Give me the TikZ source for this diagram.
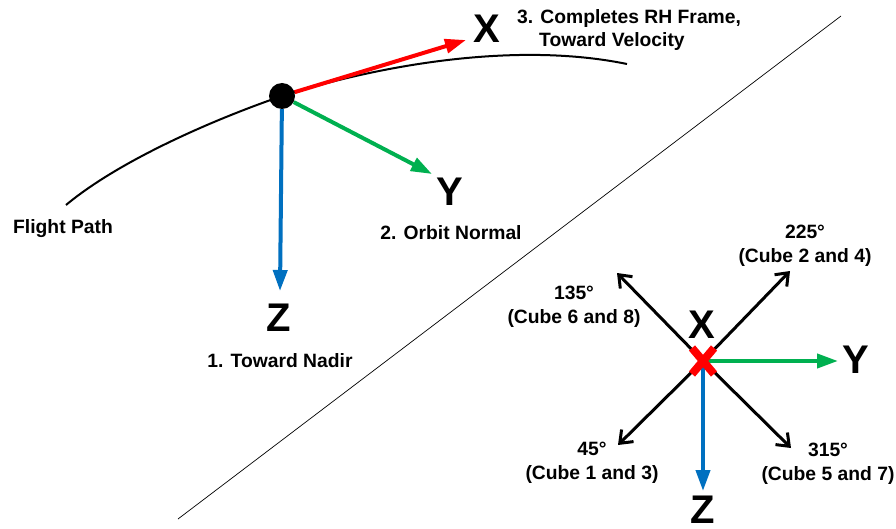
\documentclass[tikz,border=0pt]{standalone}
\usepackage{fontspec}
\setmainfont{Liberation Sans}
\usetikzlibrary{arrows.meta}
\definecolor{axred}{RGB}{255,0,0}
\definecolor{axgreen}{RGB}{0,176,80}
\definecolor{axblue}{RGB}{0,112,192}
\tikzset{x=1pt,y=-1pt,
 lab/.style={font=\bfseries\fontsize{19.3}{23.5}\selectfont,align=center,inner sep=0pt},
 big/.style={font=\bfseries\fontsize{40}{42}\selectfont,inner sep=0pt},
 axis/.style={line width=4pt,-{Triangle[length=21pt,width=14pt]}},
 cube/.style={line width=3pt,black,-{Straight Barb[length=11pt,width=17pt,line width=3pt]}},
 mark x/.style={line width=8pt,axred}}
\begin{document}
\begin{tikzpicture}
\useasboundingbox (0,0) rectangle (896,529);
\fill[white] (0,0) rectangle (896,529);
\coordinate (ps) at (66,205);
\coordinate (pe) at (627,64);
\coordinate (ds) at (178,519);
\coordinate (de) at (841,16);
\draw[line width=.7pt] (ds) -- (de);
\draw[line width=2pt] (ps) .. controls (120,160) and (215,119) .. (282,96) .. controls (370,68) and (510,40) .. (pe);
\node[circle,fill=black,minimum size=26pt,inner sep=0pt] (o) at (282,96) {};
\coordinate (xe) at (466,40);
\coordinate (ye) at (432,174);
\coordinate (ze) at (280,291);
\draw[axis,axred] (o) -- (xe);
\draw[axis,axgreen] (o) -- (ye);
\draw[axis,axblue] (o) -- (ze);
\node[big] (xl) at (487,29) {X};
\node[big] (yl) at (450,192) {Y};
\node[big] (zl) at (279,318) {Z};
\node[lab,align=left,anchor=north west] (t3) at (517,9) {3. Completes RH Frame,\\\hspace{22pt}Toward Velocity};
\node[lab] (t2) at (451,233) {2. Orbit Normal};
\node[lab] (t1) at (280,361) {1. Toward Nadir};
\node[lab] (fp) at (63,229) {Flight Path};
\coordinate (c) at (703,361);
\coordinate (a1) at (790,271);
\coordinate (a2) at (617,273);
\coordinate (a3) at (618,445);
\coordinate (a4) at (791,448);
\draw[cube] (c) -- (a1);
\draw[cube] (c) -- (a2);
\draw[cube] (c) -- (a3);
\draw[cube] (c) -- (a4);
\coordinate (gy) at (838,361);
\coordinate (gz) at (703,491);
\draw[axis,axgreen] (c) -- (gy);
\draw[axis,axblue] (c) -- (gz);
\coordinate (m1) at (692,348);
\coordinate (m2) at (714,374);
\coordinate (m3) at (692,374);
\coordinate (m4) at (714,348);
\draw[mark x] (m1) -- (m2);
\draw[mark x] (m3) -- (m4);
\node[big] (xb) at (702,325) {X};
\node[big] (yb) at (856,360) {Y};
\node[big] (zb) at (703,510) {Z};
\node[lab] (l225) at (805,246) {225°\\(Cube 2 and 4)};
\node[lab] (l135) at (574,307) {135°\\(Cube 6 and 8)};
\node[lab] (l45) at (592,463) {45°\\(Cube 1 and 3)};
\node[lab] (l315) at (828,464) {315°\\(Cube 5 and 7)};
\end{tikzpicture}
\end{document}
